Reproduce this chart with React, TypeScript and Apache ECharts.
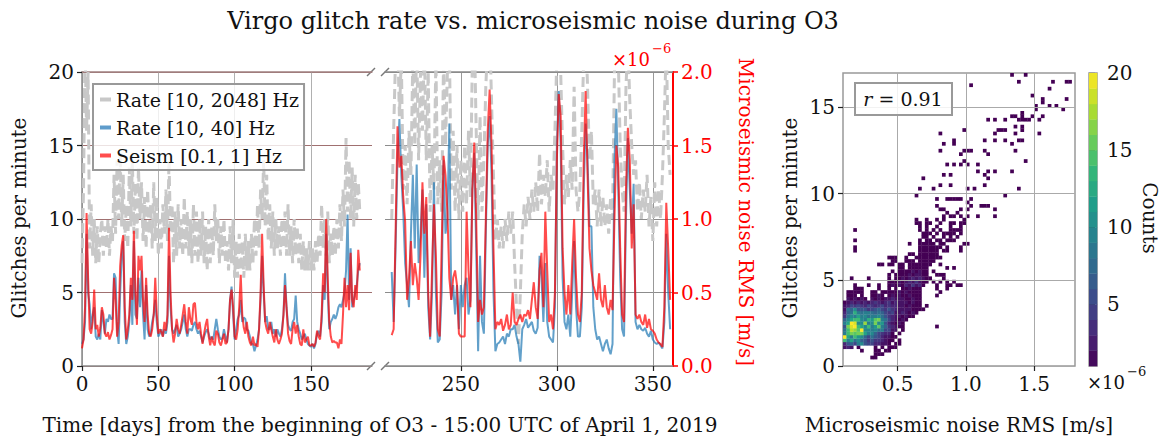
import React, { useEffect, useRef } from 'react';
import * as echarts from 'echarts';

const FONT = '"DejaVu Serif", "Liberation Serif", serif';

// ---------- time series, first segment (day 0 .. 182) ----------
const startDayA = 0;
const rateBroadA = [
  7, 12, 22, 16, 20, 8, 11, 7.5, 10, 7,
  9.5, 7, 9, 10, 7.5, 9.5, 8, 10, 7.5, 9.5,
  8.5, 13, 9, 14, 10, 14.5, 9.5, 13, 8.5, 11,
  8, 13.5, 9.5, 14, 9, 12.5, 8.5, 13.5, 10, 12.5,
  8.5, 11.5, 8, 12, 9, 11, 8, 12.5, 8.5, 11.5,
  7.5, 10, 8, 11, 9, 12, 8.5, 14, 9, 11,
  7, 10.5, 7.5, 11, 8, 10, 7.5, 11.5, 8, 10.5,
  7.5, 10, 7, 11, 7.5, 10.5, 7, 10, 7.5, 10.5,
  7, 9.5, 6.5, 10, 7, 9.5, 7.5, 11, 8.5, 10,
  7, 9.5, 7.5, 10, 7, 8.5, 6.5, 9.5, 7, 10,
  6, 8.5, 6, 9, 6.5, 8.5, 6, 9, 6.5, 8.5,
  6.5, 9, 7, 10, 7.5, 11, 8, 12, 10, 14,
  9.5, 13, 8.5, 11, 8, 10.5, 7.5, 10, 8, 9.5,
  7.5, 10, 8, 10.5, 7.5, 11, 7.5, 9.5, 7, 10,
  7.5, 9.5, 7, 9, 6.5, 8.5, 6.5, 8, 6.5, 8.5,
  6.5, 8, 6.5, 8.5, 7, 9, 7.5, 11, 8, 10,
  7.5, 10.5, 7, 9, 7.5, 9.5, 7.5, 10, 8, 11,
  8.5, 12, 9.5, 15.5, 10.5, 14, 10, 13.5, 9.5, 13,
  10, 12.5, 10.5,
];
const rateLowA = [
  1.5, 1.8, 3, 9, 5, 4.2, 2.5, 3.5, 4, 2.0,
  1.8, 2.2, 1.8, 3.8, 3, 2.2, 3.2, 3.0, 3.5, 3.2,
  3.2, 6.3, 6.0, 2.5, 1.5, 5, 7.5, 8.5, 3.0, 1.5,
  2.0, 3.0, 5.5, 2.8, 8.5, 3.5, 3.2, 6.0, 4.0, 6.5,
  3.5, 1.8, 5.5, 2.5, 2.0, 2.2, 3.0, 3.5, 4.5, 3.0,
  2.0, 2.2, 2.5, 2.0, 2.5, 2.2, 3.0, 7.5, 4.0, 2.5,
  2.2, 2.5, 2.8, 2.0, 2.2, 2.5, 3.0, 3.5, 2.5, 2.0,
  2.5, 2.5, 2.4, 2.8, 3.0, 2.5, 2.2, 2.4, 2.0, 1.6,
  2.0, 2.3, 2.5, 2.2, 1.8, 2.0, 1.8, 2.5, 3.2, 2.5,
  2.0, 1.8, 1.9, 2.5, 2.0, 1.6, 2.5, 4.5, 5.4, 3.5,
  1.8, 2.5, 3.2, 3.5, 4.5, 3.0, 3.3, 3.2, 2.5, 2.4,
  2.0, 1.5, 1.5, 1.0, 1.4, 1.8, 2.5, 4.5, 7.5, 5.0,
  3.0, 3.4, 2.5, 2.5, 3.0, 2.2, 2.5, 2.0, 2.5, 2.2,
  2.0, 2.5, 3.5, 6.3, 4.0, 2.8, 2.5, 2.4, 3.0, 3.2,
  4.8, 3.0, 2.5, 2.2, 1.8, 2.0, 2.2, 1.8, 1.5, 1.4,
  1.3, 1.5, 1.2, 1.5, 2.2, 2.4, 2.0, 3.0, 5.5, 4.5,
  9.0, 5.0, 2.5, 3.0, 3.2, 3.5, 3.2, 3.5, 4.0, 4.2,
  4.0, 4.5, 5.0, 6.5, 10.3, 4.5, 8.0, 4.0, 4.5, 5.0,
  5.5, 6.5, 7.0,
];
// microseismic RMS, units of 1e-6 m/s
const seismA = [
  0.12, 0.18, 0.40, 1.04, 0.60, 0.25, 0.22, 0.30, 0.52, 0.25,
  0.28, 0.20, 0.26, 0.40, 0.35, 0.22, 0.20, 0.23, 0.18, 0.21,
  0.25, 0.60, 0.45, 0.20, 0.30, 0.68, 0.82, 0.89, 0.40, 0.18,
  0.25, 0.35, 0.60, 0.45, 0.92, 0.50, 0.28, 0.75, 0.65, 0.75,
  0.45, 0.30, 0.60, 0.35, 0.22, 0.20, 0.25, 0.35, 0.60, 0.35,
  0.22, 0.25, 0.23, 0.20, 0.30, 0.24, 0.35, 0.94, 0.50, 0.25,
  0.16, 0.22, 0.32, 0.25, 0.22, 0.28, 0.35, 0.42, 0.30, 0.22,
  0.40, 0.32, 0.28, 0.42, 0.43, 0.30, 0.25, 0.30, 0.22, 0.15,
  0.22, 0.28, 0.32, 0.20, 0.14, 0.20, 0.16, 0.14, 0.24, 0.22,
  0.16, 0.14, 0.18, 0.22, 0.15, 0.16, 0.25, 0.45, 0.52, 0.40,
  0.20, 0.18, 0.25, 0.40, 0.62, 0.35, 0.26, 0.22, 0.30, 0.20,
  0.16, 0.14, 0.20, 0.14, 0.15, 0.13, 0.25, 0.50, 0.90, 0.55,
  0.30, 0.25, 0.22, 0.30, 0.25, 0.20, 0.16, 0.25, 0.18, 0.15,
  0.18, 0.22, 0.35, 0.55, 0.40, 0.22, 0.17, 0.15, 0.25, 0.30,
  0.22, 0.28, 0.20, 0.15, 0.14, 0.25, 0.16, 0.18, 0.20, 0.14,
  0.14, 0.15, 0.13, 0.16, 0.24, 0.20, 0.18, 0.35, 0.63, 0.50,
  1.00, 0.60, 0.30, 0.20, 0.16, 0.17, 0.16, 0.16, 0.12, 0.18,
  0.15, 0.35, 0.60, 0.40, 0.55, 0.38, 0.77, 0.45, 0.40, 0.55,
  0.45, 0.79, 0.65,
];

// ---------- time series, second segment (day 214 .. 359) ----------
const startDayB = 214;
const rateBroadB = [
  10, 16, 21, 23, 17, 21, 12, 15, 11, 16,
  13, 21, 15, 22, 14, 20, 16, 22, 14, 20,
  10.5, 15, 12, 21, 11, 14, 10.5, 21, 15, 20,
  22, 12, 16, 10.5, 15, 10, 14, 10.5, 15, 11,
  16, 11.5, 21, 23, 16, 10, 17, 10.5, 14, 19,
  22, 23, 18, 13, 8.5, 10, 8, 9.5, 8, 10,
  8.5, 10.5, 9, 10.5, 7, 4, 1.5, 5, 9, 11,
  9.5, 11.5, 10, 12, 10.5, 12.5, 10.5, 14.5, 11, 13,
  11.5, 14, 10.5, 13, 12, 16, 21, 23, 20, 15,
  11, 13, 11.5, 14, 12, 19, 12, 10.5, 12, 16,
  21, 23, 19, 14, 16, 11, 12, 9.5, 12, 9.5,
  11.5, 9.5, 11, 9, 11.5, 10, 20, 23, 21, 15,
  12, 10.5, 19, 22, 18, 15, 13, 14, 10.5, 12.5,
  10, 12, 10.5, 13, 9.5, 11.5, 8.5, 12.5, 9.5, 12,
  10, 13, 17, 22, 15, 13,
];
const rateLowB = [
  6.4, 3.0, 8, 14, 16.8, 13, 10.5, 7, 5.5, 4.0,
  9, 13, 8, 13.7, 7, 9, 12, 6, 11, 4,
  1.8, 5, 12.5, 5, 1.6, 1.8, 5, 14, 9, 10,
  16.5, 4.5, 5.5, 3.5, 5.5, 2.5, 5.5, 4.0, 5.5, 6,
  3.5, 4.5, 12, 14.5, 8, 1.0, 7.5, 3.0, 2.2, 9,
  15, 17, 13, 5, 1.0, 1.5, 1.6, 1.8, 2.0, 1.5,
  2.2, 2.0, 2.5, 2.5, 2.8, 2.0, 1.5, 0.3, 2.5, 2.8,
  3.2, 2.6, 2.8, 3.0, 2.4, 2.2, 2.6, 7.5, 6, 3,
  7, 3, 2.0, 1.8, 1.6, 4, 15, 18.7, 15, 6,
  3, 2.5, 3.5, 2.0, 5, 8.5, 4, 2, 2.0, 4,
  12, 16.5, 14, 9.5, 9.5, 4, 2.5, 1.8, 2, 1.5,
  1.0, 1.5, 1.8, 1.2, 0.8, 1.5, 14, 17.5, 12, 6,
  2.5, 2.0, 10, 15.5, 12, 9, 12.4, 3, 2.5, 2.8,
  2.5, 2.4, 2.6, 2.2, 2.0, 2.4, 1.8, 1.6, 1.5, 1.6,
  1.4, 1.2, 3, 9, 5, 2.5,
];
const seismB = [
  0.21, 0.25, 0.90, 1.63, 1.35, 1.43, 1.15, 0.98, 0.45, 0.60,
  0.85, 0.55, 0.70, 0.60, 0.45, 0.75, 1.25, 0.90, 1.15, 0.50,
  0.20, 0.65, 1.10, 0.75, 0.25, 0.20, 0.80, 1.43, 1.30, 1.05,
  0.60, 0.45, 0.60, 0.65, 0.55, 0.22, 0.20, 0.20, 0.20, 1.05,
  0.65, 0.40, 1.20, 1.52, 1.00, 0.30, 0.45, 0.35, 0.40, 1.00,
  1.60, 1.88, 1.50, 0.80, 0.25, 0.30, 0.28, 0.32, 0.24, 0.28,
  0.35, 0.25, 0.28, 0.50, 0.30, 0.28, 0.32, 0.35, 0.30, 0.35,
  0.34, 0.38, 0.32, 0.45, 0.57, 0.40, 0.32, 0.65, 0.77, 0.40,
  1.05, 0.65, 0.30, 0.35, 0.25, 0.50, 1.40, 1.85, 1.70, 0.80,
  0.50, 0.35, 0.55, 0.35, 0.70, 1.00, 0.60, 0.35, 0.30, 0.50,
  1.40, 1.87, 1.30, 0.80, 0.65, 0.55, 0.50, 0.45, 0.63, 0.45,
  0.40, 0.55, 0.40, 0.35, 0.45, 0.38, 1.00, 1.50, 1.35, 0.80,
  0.35, 0.30, 1.20, 1.62, 1.40, 0.80, 1.10, 0.35, 0.32, 0.35,
  0.30, 0.28, 0.35, 0.26, 0.32, 0.25, 0.24, 0.22, 0.18, 0.16,
  0.15, 0.13, 0.40, 1.11, 0.80, 0.45,
];

const xTicksA = [0, 50, 100, 150];
const xTicksB = [250, 300, 350];
const seismTicks = [0, 0.5, 1.0, 1.5, 2.0];
const scatterXTicks = [0.5, 1.0, 1.5];
const scatterYTicks = [0, 5, 10, 15];
const countTicks = [5, 10, 15, 20];
const colorbarSteps = [1, 2, 3, 4, 5, 6, 7, 8, 9, 10, 11, 12, 13, 14, 15, 16, 17, 18, 19];

// ---------- 2D histogram (seismic RMS vs low-frequency glitch rate) ----------
const BIN_X0 = 0.1;
const BIN_DX = 0.025;
const BIN_DY = 0.2;
// [iy, counts for ix = 0,1,2,...]
const heatDenseRows: [number, number[]][] = [
  [2, [0, 0, 0, 0, 0, 0, 0, 0, 1, 1]],
  [3, [0, 0, 0, 0, 0, 0, 0, 0, 0, 1, 1, 1]],
  [4, [0, 0, 0, 0, 0, 1, 0, 0, 0, 1, 1, 0, 1, 1]],
  [5, [2, 3, 2, 0, 1, 0, 0, 0, 0, 1, 0, 1, 0, 1, 1, 1]],
  [6, [3, 6, 7, 5, 9, 10, 6, 5, 5, 3, 3, 2, 2, 1, 0, 1, 1]],
  [7, [14, 9, 12, 8, 10, 7, 6, 4, 6, 4, 4, 3, 2, 1, 1, 0, 1]],
  [8, [20, 12, 9, 14, 11, 10, 7, 5, 8, 6, 5, 3, 2, 2, 1, 1]],
  [9, [9, 14, 16, 15, 16, 16, 12, 9, 10, 7, 5, 4, 3, 3, 1, 0, 1]],
  [10, [8, 14, 18, 17, 15, 20, 10, 10, 9, 10, 8, 9, 5, 5, 2, 2, 0, 1]],
  [11, [6, 16, 19, 20, 14, 12, 10, 14, 9, 11, 15, 9, 7, 4, 3, 2, 1, 1, 0, 0, 0, 0, 0, 0, 0, 0, 0, 1]],
  [12, [9, 12, 20, 19, 10, 10, 17, 9, 10, 16, 10, 11, 6, 3, 2, 1, 2, 1]],
  [13, [7, 10, 12, 14, 14, 10, 9, 13, 11, 15, 16, 9, 8, 5, 3, 2, 1, 2, 1]],
  [14, [4, 8, 10, 9, 12, 9, 10, 8, 9, 9, 10, 8, 6, 4, 3, 2, 2, 1, 2, 1, 1]],
  [15, [3, 7, 8, 13, 9, 8, 9, 9, 8, 7, 8, 7, 5, 4, 5, 2, 2, 3, 2, 1, 2, 1]],
  [16, [2, 8, 7, 10, 6, 6, 6, 4, 5, 6, 7, 5, 4, 6, 4, 3, 2, 2, 2, 2, 1, 1, 1, 1]],
  [17, [2, 3, 5, 4, 5, 4, 3, 5, 4, 3, 4, 5, 3, 4, 3, 3, 2, 2, 1, 2, 1, 1, 1, 0, 1]],
  [18, [1, 2, 3, 2, 3, 2, 3, 2, 3, 4, 3, 2, 3, 4, 2, 3, 2, 2, 2, 1, 2, 1, 1]],
  [19, [0, 2, 1, 2, 1, 2, 1, 0, 2, 1, 2, 1, 2, 2, 3, 2, 2, 2, 1, 1, 2, 1, 1]],
  [20, [0, 1, 1, 1, 0, 1, 0, 0, 1, 1, 2, 1, 0, 1, 2, 1, 2, 1, 1, 2, 1, 1, 1, 0, 0, 0, 0, 1]],
  [21, [0, 1, 1, 1, 1, 1, 0, 0, 1, 1, 0, 1, 1, 1, 1, 1, 2, 1, 2, 1, 1, 1, 1, 0, 0, 0, 0, 0, 1]],
  [22, [0, 0, 0, 1, 1, 1, 0, 0, 0, 0, 1, 0, 0, 1, 0, 1, 0, 1, 1, 2, 1, 1, 1, 0, 0, 0, 0, 1, 0, 0, 1]],
  [23, [0, 0, 0, 1, 0, 0, 0, 1, 0, 0, 1, 0, 0, 1, 2, 1, 2, 1, 3, 2, 4, 2, 3, 1, 0, 0, 0, 1, 0, 0, 1, 1, 0, 1, 1]],
  [24, [0, 0, 0, 0, 0, 0, 0, 0, 0, 0, 0, 0, 0, 1, 1, 1, 2, 1, 2, 3, 2, 4, 2, 1, 1, 0, 1, 0, 1, 0, 1, 0, 1]],
  [25, [0, 0, 1, 0, 0, 0, 0, 1, 0, 0, 0, 0, 0, 1, 0, 1, 1, 2, 1, 2, 3, 2, 3, 2, 1, 1, 0, 0, 0, 1]],
  [26, [0, 0, 0, 0, 0, 0, 0, 0, 0, 0, 0, 0, 0, 1, 0, 1, 1, 1, 1, 2, 1, 2, 2, 1, 1, 0, 0, 1, 1, 1]],
  [27, [0, 0, 0, 0, 0, 0, 0, 0, 0, 0, 0, 0, 0, 0, 1, 0, 1, 1, 1, 1, 2, 1, 2, 1, 1, 0, 1]],
];
// [iy, list of ix holding a single count]
const heatSparseRows: [number, number[]][] = [
  [28, [16, 17, 19, 20, 21, 22, 23, 24, 30, 32]],
  [29, [10, 11, 13, 14, 16, 17, 19, 20, 21, 22, 23, 24, 25, 28]],
  [30, [14, 15, 18, 19, 20, 22, 23, 24, 25, 26]],
  [31, [13, 14, 15, 18, 21, 22, 23, 24, 25, 26, 27, 28]],
  [32, [19, 20, 22, 23, 24, 25, 26, 27]],
  [33, [3, 22, 23, 24, 25, 26, 27, 29, 30, 34]],
  [34, [3, 22, 23, 24, 25, 26, 27, 28, 30, 34]],
  [35, [19, 22, 23, 24, 25, 26, 28, 29, 35, 36]],
  [36, [3, 22, 24, 25, 27, 28, 30, 31, 32]],
  [37, [23, 24, 26, 29, 31, 33]],
  [38, [23, 24, 25, 27, 29, 30, 31, 32, 34]],
  [39, [3, 22, 24, 26, 28, 31, 32, 33, 34]],
  [40, [22, 24, 27, 31, 34]],
  [41, [21, 22, 24, 25, 28, 31, 32, 34, 35]],
  [42, [21, 24, 27, 29, 35]],
  [43, [29, 31, 32, 34, 36, 39, 44]],
  [44, [30, 33]],
  [45, [28, 29, 34, 36, 44]],
  [46, [27, 37, 40, 41, 42]],
  [47, [36]],
  [48, [27, 30, 31, 32, 33, 34, 37]],
  [49, [21, 47]],
  [51, [22, 26, 36, 38, 51]],
  [52, [28, 31, 41]],
  [54, [23, 42]],
  [55, [29, 31, 41]],
  [56, [39, 42, 44, 49]],
  [58, [30, 32, 34, 36, 39]],
  [59, [35, 53]],
  [61, [34, 42]],
  [62, [28, 35, 36, 37, 41, 50]],
  [64, [29, 32, 49]],
  [65, [32, 41, 44, 47, 51, 52]],
  [67, [28, 44, 50, 57]],
  [68, [35, 45, 46, 47, 52]],
  [69, [50, 52]],
  [71, [42, 44, 47, 51, 52, 53, 54, 57]],
  [72, [49, 50, 52, 55, 58]],
  [73, [52]],
  [74, [56, 64]],
  [75, [56, 60, 62]],
  [76, [58]],
  [77, [58, 65]],
  [78, [55]],
  [80, [60]],
  [81, [37]],
  [82, [51, 61, 65, 66]],
  [84, [49, 53]],
];

const viridis = ['#440154', '#482878', '#3e4989', '#31688e', '#26828e', '#1f9e89', '#35b779', '#6ece58', '#b5de2b', '#fde725'];

const NAME_BROAD = 'Rate [10, 2048] Hz';
const NAME_LOW = 'Rate [10, 40] Hz';
const NAME_SEISM = 'Seism [0.1, 1] Hz';

const toPairs = (start: number, arr: number[]) => arr.map((v, i) => [start + i, v]);

function buildHeat() {
  const out: number[][] = [];
  heatDenseRows.forEach(([iy, counts]) => {
    counts.forEach((c, ix) => {
      if (c > 0) out.push([BIN_X0 + ix * BIN_DX, iy * BIN_DY, c]);
    });
  });
  heatSparseRows.forEach(([iy, ixs]) => {
    ixs.forEach((ix) => out.push([BIN_X0 + ix * BIN_DX, iy * BIN_DY, 1]));
  });
  return out;
}

export default function App() {
  const ref = useRef<HTMLDivElement>(null);

  useEffect(() => {
    if (!ref.current) return;
    const chart = echarts.init(ref.current, undefined, { renderer: 'svg' });

    const FS = 20;
    const tick = { show: true, length: 5, lineStyle: { color: '#222', width: 1.2 } };
    const label = { color: '#111', fontSize: FS, fontFamily: FONT, margin: 8 };
    const spine = { show: true, onZero: false, lineStyle: { color: '#8a8a8a', width: 1.5 } };

    const grayLine = { color: '#c8c8c8', width: 3, type: [10, 5] as number[] };
    const blueLine = { color: '#1f77b4', width: 2, opacity: 0.7 };
    const redLine = { color: '#ff0000', width: 2, opacity: 0.7 };

    const heatData = buildHeat();
    const cbarData = colorbarSteps.map((v) => [0, v, v + 0.5]);

    const cellRender = (dx: number, dy: number) => (params: any, api: any) => {
      const x0 = api.value(0);
      const y0 = api.value(1);
      const p0 = api.coord([x0, y0]);
      const p1 = api.coord([x0 + dx, y0 + dy]);
      return {
        type: 'rect',
        shape: { x: p0[0], y: p1[1], width: p1[0] - p0[0] + 0.3, height: p0[1] - p1[1] + 0.3 },
        style: { fill: api.visual('color') },
      };
    };

    const txt = (x: number, y: number, text: string, extra: any = {}) => ({
      type: 'text',
      x,
      y,
      ...extra,
      style: {
        text,
        fontFamily: FONT,
        fontSize: FS,
        fill: '#111',
        align: 'center',
        verticalAlign: 'middle',
        ...(extra.style || {}),
      },
    });

    const breakMark = (x: number, y: number) => ({
      type: 'line',
      shape: { x1: x - 4, y1: y + 4, x2: x + 4, y2: y - 4 },
      style: { stroke: '#777', lineWidth: 1.4 },
    });

    const option: any = {
      animation: false,
      backgroundColor: '#ffffff',
      grid: [
        { left: 82, top: 72, width: 290, height: 294, outerBoundsMode: 'none' },
        { left: 385, top: 72, width: 288, height: 294, outerBoundsMode: 'none' },
        { left: 843, top: 73, width: 232, height: 293, outerBoundsMode: 'none', show: true, borderColor: '#999', borderWidth: 1.5 },
        { left: 1089, top: 73, width: 8, height: 293, outerBoundsMode: 'none', show: true, borderColor: '#999', borderWidth: 1.5 },
      ],
      xAxis: [
        {
          type: 'value', gridIndex: 0, min: 0, max: 190, position: 'bottom',
          axisLine: spine,
          axisTick: { ...tick, customValues: xTicksA },
          axisLabel: { ...label, customValues: xTicksA },
          splitLine: { show: true, lineStyle: { color: '#b0b0b0', width: 1 } },
        },
        {
          type: 'value', gridIndex: 0, min: 0, max: 190, position: 'top',
          axisLine: { ...spine, lineStyle: { color: '#a08080', width: 1.5 } },
          axisTick: { show: false }, axisLabel: { show: false }, splitLine: { show: false },
        },
        {
          type: 'value', gridIndex: 1, min: 210.5, max: 360.5, position: 'bottom',
          axisLine: spine,
          axisTick: { ...tick, customValues: xTicksB },
          axisLabel: { ...label, customValues: xTicksB },
          splitLine: { show: true, lineStyle: { color: '#999', width: 1 } },
        },
        {
          type: 'value', gridIndex: 1, min: 210.5, max: 360.5, position: 'top',
          axisLine: spine,
          axisTick: { show: false }, axisLabel: { show: false }, splitLine: { show: false },
        },
        {
          type: 'value', gridIndex: 2, min: 0.1, max: 1.8, position: 'bottom', z: 5,
          axisLine: { show: false },
          axisTick: { ...tick, customValues: scatterXTicks },
          axisLabel: { ...label, customValues: scatterXTicks, formatter: (v: number) => v.toFixed(1) },
          splitLine: { show: true, lineStyle: { color: '#aaa', width: 1 } },
        },
        { type: 'value', gridIndex: 3, min: 0, max: 1, show: false },
      ],
      yAxis: [
        {
          type: 'value', gridIndex: 0, min: 0, max: 20, interval: 5, position: 'left',
          axisLine: spine, axisTick: tick, axisLabel: label,
          splitLine: { show: true, lineStyle: { color: '#a07070', width: 1 } },
        },
        { type: 'value', gridIndex: 0, min: 0, max: 2, show: false },
        {
          type: 'value', gridIndex: 1, min: 0, max: 20, interval: 5, position: 'left',
          axisLine: { show: false }, axisTick: { show: false }, axisLabel: { show: false },
          splitLine: { show: true, lineStyle: { color: '#8c8c8c', width: 1 } },
        },
        {
          type: 'value', gridIndex: 1, min: 0, max: 2, position: 'right',
          axisLine: { show: true, onZero: false, lineStyle: { color: '#ff0000', width: 2 } },
          axisTick: { show: true, length: 5, lineStyle: { color: '#ff0000', width: 1.5 }, customValues: seismTicks },
          axisLabel: { ...label, color: '#ff0000', customValues: seismTicks, formatter: (v: number) => v.toFixed(1) },
          splitLine: { show: false },
        },
        {
          type: 'value', gridIndex: 2, min: 0, max: 17, position: 'left', z: 5,
          axisLine: { show: false },
          axisTick: { ...tick, customValues: scatterYTicks },
          axisLabel: { ...label, customValues: scatterYTicks },
          splitLine: { show: true, lineStyle: { color: '#aaa', width: 1 } },
        },
        {
          type: 'value', gridIndex: 3, min: 1, max: 20, position: 'right',
          axisLine: { show: false },
          axisTick: { ...tick, length: 6, customValues: countTicks },
          axisLabel: { ...label, customValues: countTicks, margin: 10 },
          splitLine: { show: false },
        },
      ],
      legend: {
        show: true,
        left: 93,
        top: 84,
        orient: 'vertical',
        data: [NAME_BROAD, NAME_LOW, NAME_SEISM],
        icon: 'rect',
        itemWidth: 11,
        itemHeight: 4,
        itemGap: 9,
        selectedMode: false,
        backgroundColor: 'rgba(255,255,255,0.8)',
        borderColor: '#999',
        borderWidth: 2,
        borderRadius: 0,
        padding: [6, 5, 5, 7],
        textStyle: { fontSize: 19, fontFamily: FONT, color: '#111' },
      },
      visualMap: [
        {
          type: 'continuous', show: false, min: 1, max: 20, dimension: 2,
          seriesIndex: [6, 7], inRange: { color: viridis },
        },
      ],
      series: [
        { type: 'line', name: NAME_BROAD, xAxisIndex: 0, yAxisIndex: 0, data: toPairs(startDayA, rateBroadA), symbol: 'none', color: '#c8c8c8', lineStyle: grayLine, silent: true },
        { type: 'line', name: NAME_LOW, xAxisIndex: 0, yAxisIndex: 0, data: toPairs(startDayA, rateLowA), symbol: 'none', color: '#5f9ccb', lineStyle: blueLine, silent: true },
        { type: 'line', name: NAME_SEISM, xAxisIndex: 0, yAxisIndex: 1, data: toPairs(startDayA, seismA), symbol: 'none', color: '#ff4d4d', lineStyle: redLine, silent: true },
        { type: 'line', name: NAME_BROAD, xAxisIndex: 2, yAxisIndex: 2, data: toPairs(startDayB, rateBroadB), symbol: 'none', color: '#c8c8c8', lineStyle: grayLine, silent: true },
        { type: 'line', name: NAME_LOW, xAxisIndex: 2, yAxisIndex: 2, data: toPairs(startDayB, rateLowB), symbol: 'none', color: '#5f9ccb', lineStyle: blueLine, silent: true },
        { type: 'line', name: NAME_SEISM, xAxisIndex: 2, yAxisIndex: 3, data: toPairs(startDayB, seismB), symbol: 'none', color: '#ff4d4d', lineStyle: redLine, silent: true },
        {
          type: 'custom', name: 'hist', xAxisIndex: 4, yAxisIndex: 4, data: heatData,
          encode: { x: 0, y: 1 }, renderItem: cellRender(BIN_DX, BIN_DY), silent: true, z: 1,
        },
        {
          type: 'custom', name: 'cbar', xAxisIndex: 5, yAxisIndex: 5, data: cbarData,
          encode: { x: 0, y: 1 }, renderItem: cellRender(1, 1), silent: true, z: 1,
        },
      ],
      graphic: [
        txt(533, 21, 'Virgo glitch rate vs. microseismic noise during O3', { style: { fontSize: 24 } }),
        txt(380, 425, 'Time [days] from the beginning of O3 - 15:00 UTC of April 1, 2019'),
        txt(959, 425, 'Microseismic noise RMS [m/s]'),
        txt(19, 218, 'Glitches per minute', { rotation: Math.PI / 2 }),
        txt(790, 218, 'Glitches per minute', { rotation: Math.PI / 2 }),
        txt(746, 212, 'Microseismic noise RMS [m/s]', { rotation: -Math.PI / 2, style: { fill: '#ff0000' } }),
        txt(1150, 218, 'Counts', { rotation: -Math.PI / 2 }),
        txt(612, 59, '×10', { style: { fill: '#ff0000', align: 'left', fontSize: 18 } }),
        txt(652, 48, '−6', { style: { fill: '#ff0000', align: 'left', fontSize: 13 } }),
        txt(1087, 382, '×10', { style: { align: 'left', fontSize: 18 } }),
        txt(1127, 371, '−6', { style: { align: 'left', fontSize: 13 } }),
        {
          type: 'rect',
          shape: { x: 855, y: 83, width: 97, height: 32 },
          style: { fill: 'rgba(255,255,255,0.85)', stroke: '#999', lineWidth: 2 },
          z: 100,
        },
        {
          type: 'text', x: 903, y: 99, z: 101,
          style: {
            text: '{i|r} = 0.91',
            fontFamily: FONT, fontSize: 19, fill: '#111', align: 'center', verticalAlign: 'middle',
            rich: { i: { fontStyle: 'italic', fontFamily: FONT, fontSize: 19, fill: '#111' } },
          },
        },
        breakMark(371, 72), breakMark(385, 72), breakMark(371, 366), breakMark(385, 366),
      ],
    };

    chart.setOption(option);
    return () => chart.dispose();
  }, []);

  return (
    <div
      ref={ref}
      style={{ position: 'fixed', left: 0, top: 0, width: 1165, height: 438, background: '#fff' }}
    />
  );
}
